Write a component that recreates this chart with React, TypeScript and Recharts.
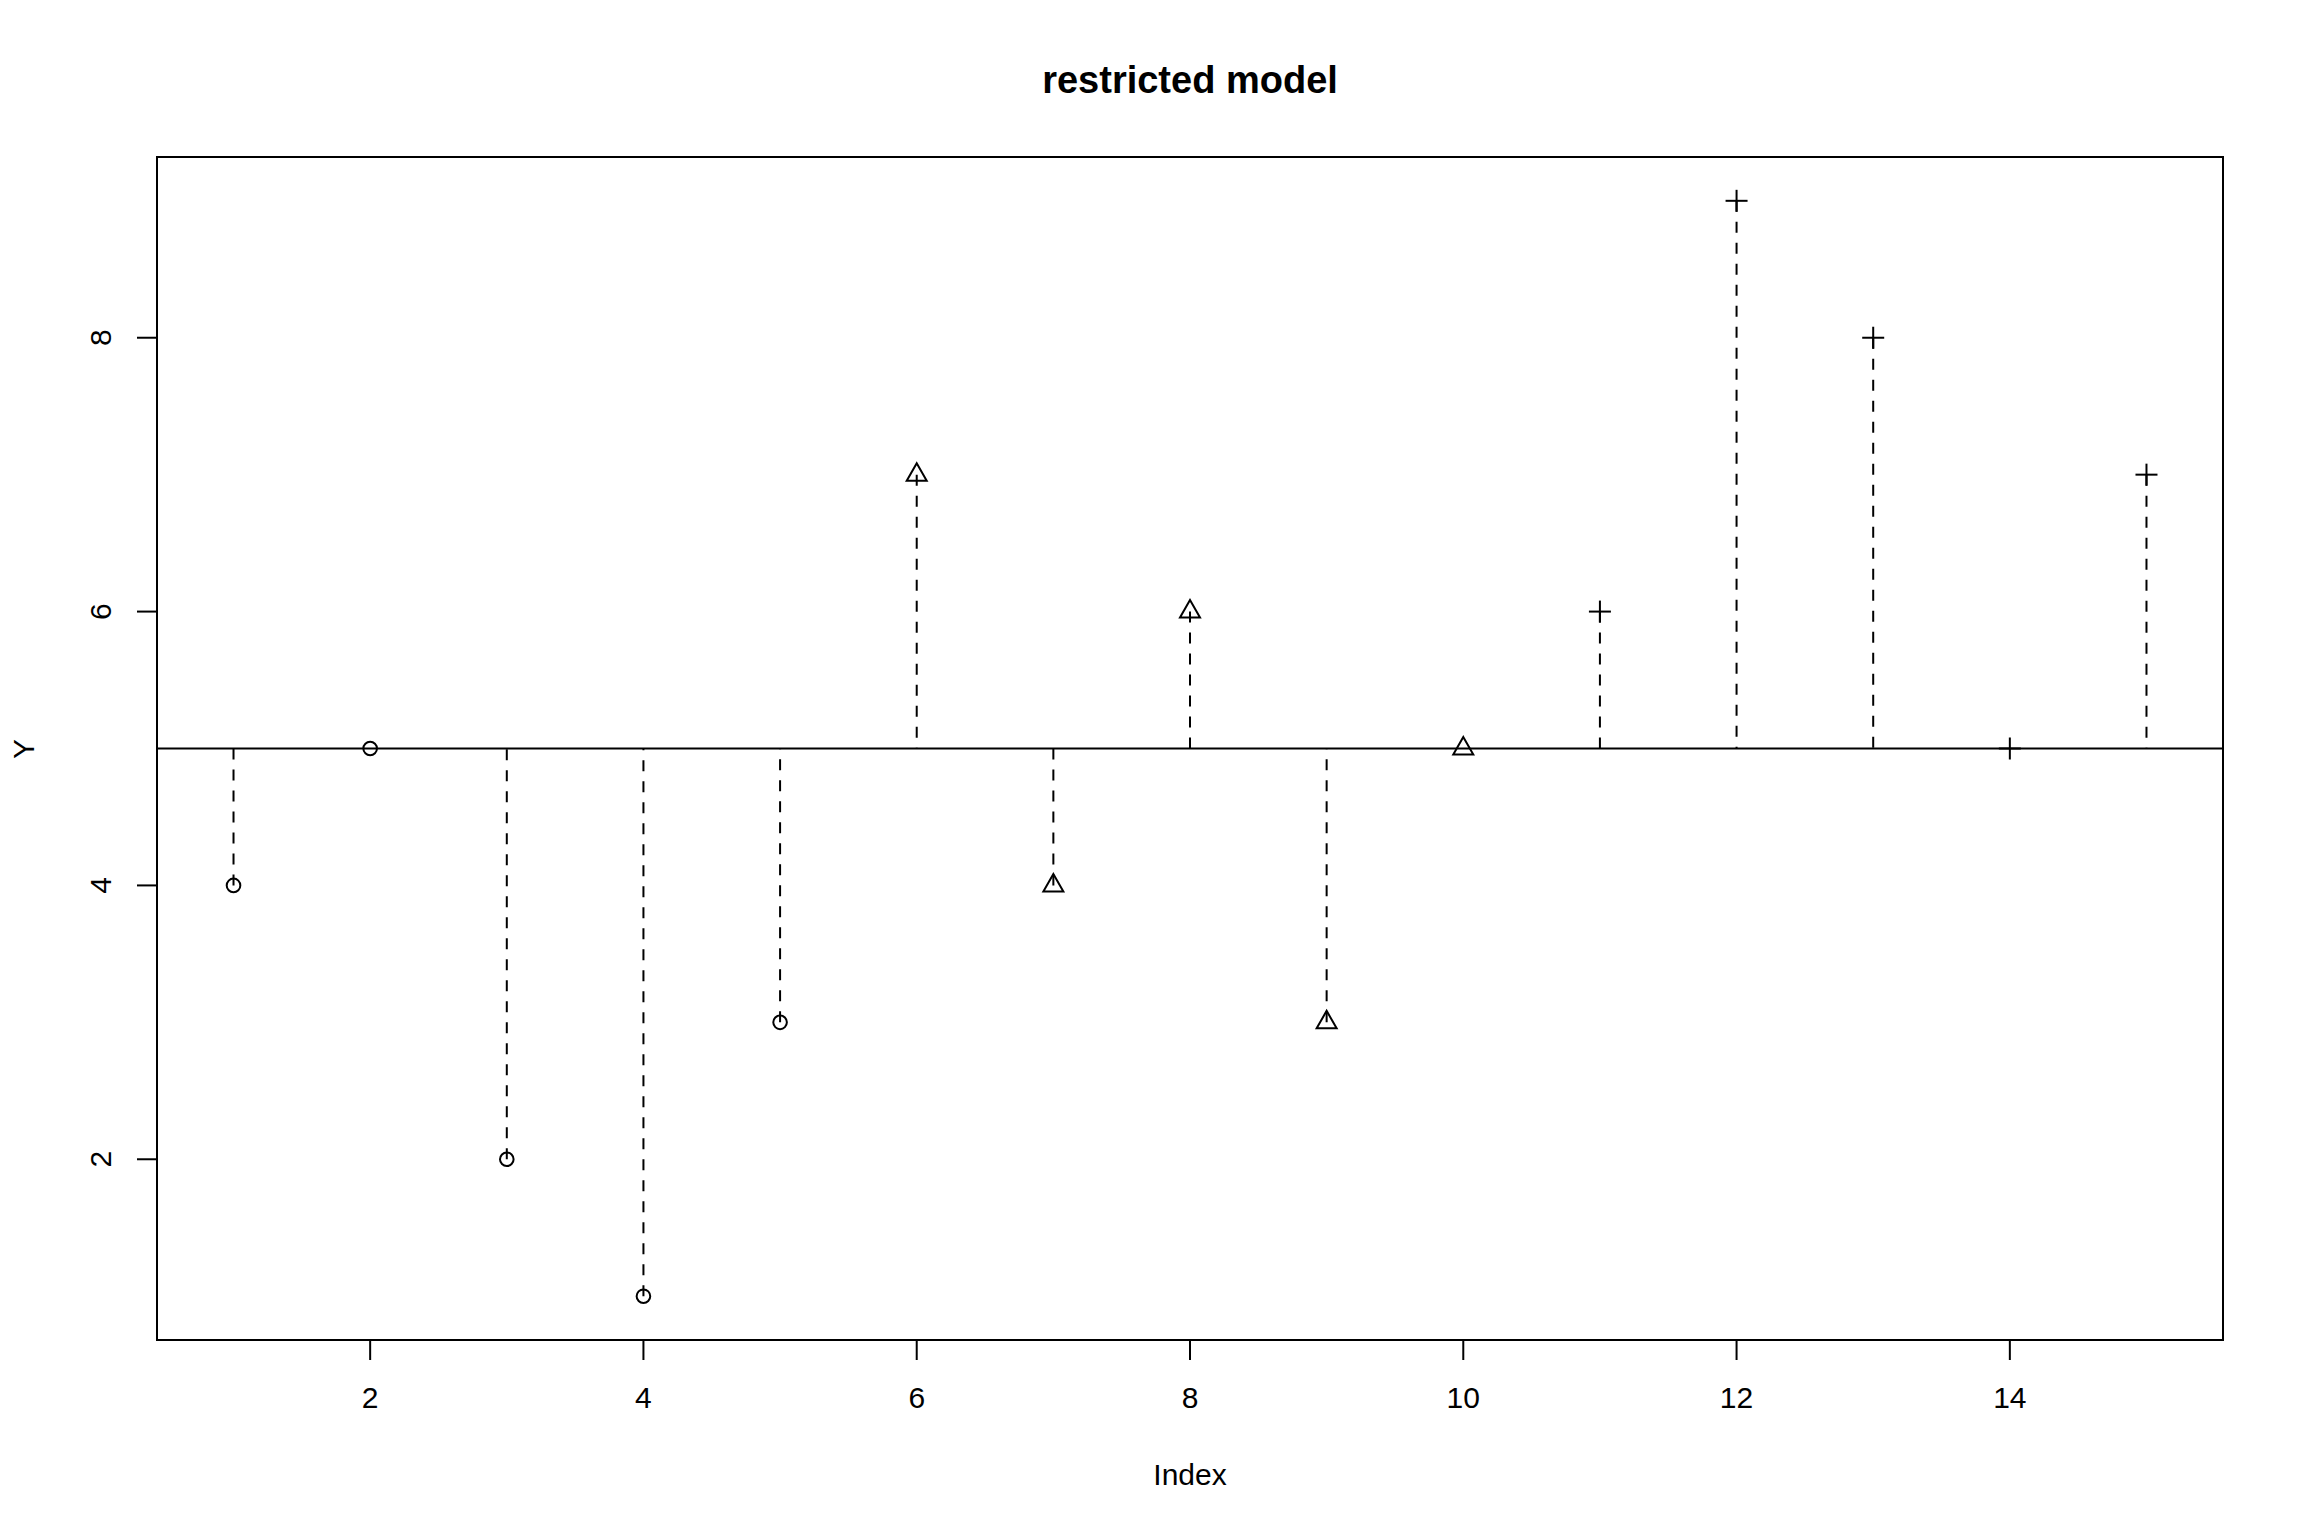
import { ComposedChart, Scatter, XAxis, YAxis, ReferenceLine, ReferenceArea } from 'recharts';

// observations, grouped the way the plot draws them (pch 1 / 2 / 3)
const indexValues = [1, 2, 3, 4, 5, 6, 7, 8, 9, 10, 11, 12, 13, 14, 15];
const yValues = [4, 5, 2, 1, 3, 7, 4, 6, 3, 5, 6, 9, 8, 5, 7];
const groupOf = ['a', 'a', 'a', 'a', 'a', 'b', 'b', 'b', 'b', 'b', 'c', 'c', 'c', 'c', 'c'];
const xTicks = [2, 4, 6, 8, 10, 12, 14];
const yTicks = [2, 4, 6, 8];

const FONT = '"Liberation Sans", Arial, Helvetica, sans-serif';

const points = indexValues.map((x, i) => ({ x, y: yValues[i], g: groupOf[i] }));
const circles = points.filter((p) => p.g === 'a');
const triangles = points.filter((p) => p.g === 'b');
const pluses = points.filter((p) => p.g === 'c');
const meanY = yValues.reduce((s, v) => s + v, 0) / yValues.length;

// R-style 4% axis extension
const xPad = (Math.max(...indexValues) - Math.min(...indexValues)) * 0.04;
const yPad = (Math.max(...yValues) - Math.min(...yValues)) * 0.04;
const xDomain: [number, number] = [Math.min(...indexValues) - xPad, Math.max(...indexValues) + xPad];
const yDomain: [number, number] = [Math.min(...yValues) - yPad, Math.max(...yValues) + yPad];

const CircleShape = (props: any) => (
  <circle cx={props.cx} cy={props.cy} r={6.8} fill="none" stroke="#000" strokeWidth={2} />
);

const TriangleShape = (props: any) => {
  const { cx, cy } = props;
  return (
    <polygon
      points={`${cx},${cy - 11.5} ${cx - 10},${cy + 6} ${cx + 10},${cy + 6}`}
      fill="none"
      stroke="#000"
      strokeWidth={2}
    />
  );
};

const PlusShape = (props: any) => {
  const { cx, cy } = props;
  return (
    <g stroke="#000" strokeWidth={2}>
      <line x1={cx - 11} y1={cy} x2={cx + 11} y2={cy} />
      <line x1={cx} y1={cy - 11} x2={cx} y2={cy + 11} />
    </g>
  );
};

const YTick = (props: any) => {
  const { x, y, payload } = props;
  return (
    <text
      x={x}
      y={y}
      transform={`rotate(-90, ${x}, ${y})`}
      textAnchor="middle"
      fontSize={30}
      fontFamily={FONT}
      fill="#000"
    >
      {payload.value}
    </text>
  );
};

export default function App() {
  return (
    <div style={{ position: 'absolute', left: 0, top: 0, width: 2304, height: 1536, background: '#fff' }}>
      <ComposedChart
        width={2304}
        height={1536}
        data={points}
        margin={{ top: 157, right: 81, bottom: 136, left: 97 }}
      >
        <XAxis
          type="number"
          dataKey="x"
          domain={xDomain}
          ticks={xTicks}
          allowDataOverflow
          axisLine={false}
          tickSize={20}
          tickMargin={27}
          height={60}
          tickLine={{ stroke: '#000', strokeWidth: 2 }}
          tick={{ fill: '#000', fontSize: 30, fontFamily: FONT }}
        />
        <YAxis
          type="number"
          dataKey="y"
          domain={yDomain}
          ticks={yTicks}
          allowDataOverflow
          axisLine={false}
          width={60}
          tickSize={20}
          tickMargin={26}
          tickLine={{ stroke: '#000', strokeWidth: 2 }}
          tick={<YTick />}
        />
        <ReferenceArea
          x1={xDomain[0]}
          x2={xDomain[1]}
          y1={yDomain[0]}
          y2={yDomain[1]}
          fill="none"
          fillOpacity={0}
          stroke="#000"
          strokeWidth={2}
          ifOverflow="visible"
        />
        <ReferenceLine y={meanY} stroke="#000" strokeWidth={2} />
        {points
          .filter((p) => p.y !== meanY)
          .map((p) => (
            <ReferenceLine
              key={p.x}
              segment={[{ x: p.x, y: p.y }, { x: p.x, y: meanY }]}
              stroke="#000"
              strokeWidth={2}
              strokeDasharray="11 10"
            />
          ))}
        <Scatter data={circles} dataKey="y" shape={<CircleShape />} isAnimationActive={false} />
        <Scatter data={triangles} dataKey="y" shape={<TriangleShape />} isAnimationActive={false} />
        <Scatter data={pluses} dataKey="y" shape={<PlusShape />} isAnimationActive={false} />
      </ComposedChart>
      <svg width={2304} height={1536} style={{ position: 'absolute', left: 0, top: 0, pointerEvents: 'none' }}>
        <text x={1190} y={93} textAnchor="middle" fontSize={38} fontWeight="bold" fontFamily={FONT} fill="#000">
          restricted model
        </text>
        <text x={1190} y={1485} textAnchor="middle" fontSize={30} fontFamily={FONT} fill="#000">
          Index
        </text>
        <text x={34} y={749} transform="rotate(-90, 34, 749)" textAnchor="middle" fontSize={30} fontFamily={FONT} fill="#000">
          Y
        </text>
      </svg>
    </div>
  );
}
